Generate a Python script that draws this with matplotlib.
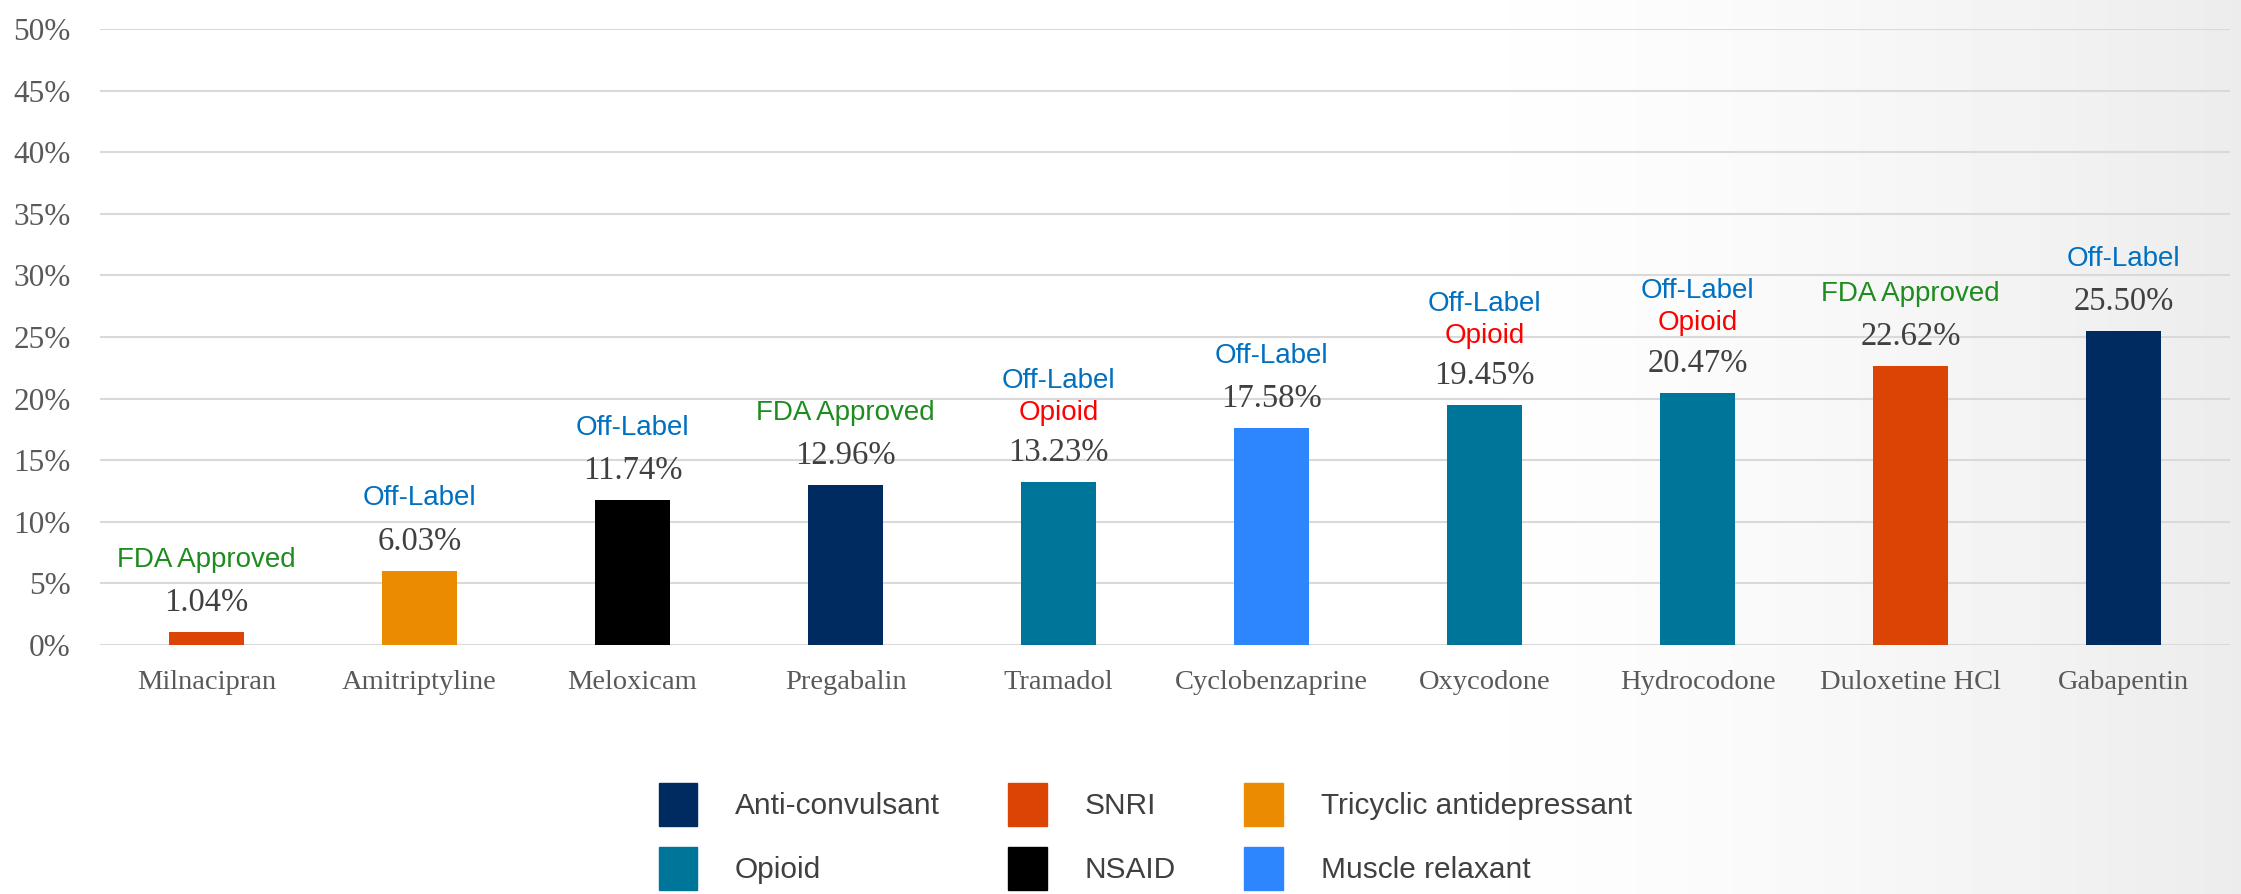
import numpy as np
from matplotlib import pyplot as plt
from matplotlib.patches import Patch

# data
drugs = ['Milnacipran', 'Amitriptyline', 'Meloxicam', 'Pregabalin', 'Tramadol',
         'Cyclobenzaprine', 'Oxycodone', 'Hydrocodone', 'Duloxetine HCl', 'Gabapentin']
values = [1.04, 6.03, 11.74, 12.96, 13.23, 17.58, 19.45, 20.47, 22.62, 25.50]
drug_class = ['SNRI', 'Tricyclic antidepressant', 'NSAID', 'Anti-convulsant', 'Opioid',
              'Muscle relaxant', 'Opioid', 'Opioid', 'SNRI', 'Anti-convulsant']
status = ['FDA Approved', 'Off-Label', 'Off-Label', 'FDA Approved', 'Off-Label',
          'Off-Label', 'Off-Label', 'Off-Label', 'FDA Approved', 'Off-Label']

class_colors = {
    'Anti-convulsant': '#002B60',
    'SNRI': '#DC4405',
    'Tricyclic antidepressant': '#EB8C00',
    'Opioid': '#00759A',
    'NSAID': '#000000',
    'Muscle relaxant': '#2E86FF',
}
legend_order = ['Anti-convulsant', 'Opioid', 'SNRI', 'NSAID',
                'Tricyclic antidepressant', 'Muscle relaxant']
status_colors = {'FDA Approved': '#1E8C1E', 'Off-Label': '#0070C0'}

fig = plt.figure(figsize=(22.41, 8.94), dpi=100)

# faint grey background on the right side
bg = fig.add_axes([0, 0, 1, 1], zorder=-10)
gx = np.linspace(0, 1, 300)
gy = np.linspace(0, 1, 120)
GX, GY = np.meshgrid(gx, gy)
shade = np.clip((GX - 0.62) / 0.38, 0, 1) ** 1.5 * 0.075
bg.imshow(1 - shade, cmap='gray', vmin=0, vmax=1, aspect='auto', extent=[0, 1, 0, 1])
bg.axis('off')

ax = fig.add_axes([100 / 2241, 249 / 894, 2130 / 2241, 616 / 894])
ax.patch.set_alpha(0)

x = np.arange(len(drugs))
colors = [class_colors[c] for c in drug_class]
ax.bar(x, values, width=0.35, color=colors, zorder=3)

ax.set_ylim(0, 50)
ax.set_xlim(-0.5, len(drugs) - 0.5)
ax.set_yticks(np.arange(0, 51, 5))
ax.set_yticklabels([f'{v}%' for v in range(0, 51, 5)])
ax.set_xticks(x)
ax.set_xticklabels(drugs)
ax.grid(axis='y', color='#D9D9D9', linewidth=1.5, zorder=0)
for s in ax.spines.values():
    s.set_visible(False)
ax.tick_params(axis='both', length=0, colors='#595959')
ax.tick_params(axis='y', pad=21)
ax.tick_params(axis='x', pad=18)
for lab in ax.get_yticklabels():
    lab.set_fontfamily('Liberation Serif')
    lab.set_fontsize(22.5)
for lab in ax.get_xticklabels():
    lab.set_fontfamily('Liberation Serif')
    lab.set_fontsize(20.5)

for i, v in enumerate(values):
    ax.annotate(f'{v:.2f}%', (i, v), xytext=(0, 21), textcoords='offset points',
                ha='center', va='center', fontsize=23.5, color='#404040',
                family='Liberation Serif')
    if drug_class[i] == 'Opioid':
        ax.annotate('Opioid', (i, v), xytext=(0, 50), textcoords='offset points',
                    ha='center', va='center', fontsize=20, color='#FF0000',
                    family='Liberation Sans')
        ax.annotate(status[i], (i, v), xytext=(0, 73), textcoords='offset points',
                    ha='center', va='center', fontsize=20, color=status_colors[status[i]],
                    family='Liberation Sans')
    else:
        ax.annotate(status[i], (i, v), xytext=(0, 52), textcoords='offset points',
                    ha='center', va='center', fontsize=20, color=status_colors[status[i]],
                    family='Liberation Sans')

handles = [Patch(color=class_colors[c]) for c in legend_order]
leg = fig.legend(handles, legend_order, ncol=3, loc='center',
                 bbox_to_anchor=(0.511, 0.064), frameon=False,
                 prop={'family': 'Liberation Sans', 'size': 21.5},
                 handlelength=1.3, handleheight=1.85, handletextpad=1.25,
                 columnspacing=2.3, labelspacing=0.7)
for t in leg.get_texts():
    t.set_color('#404040')

plt.savefig('out.png', dpi=100)
